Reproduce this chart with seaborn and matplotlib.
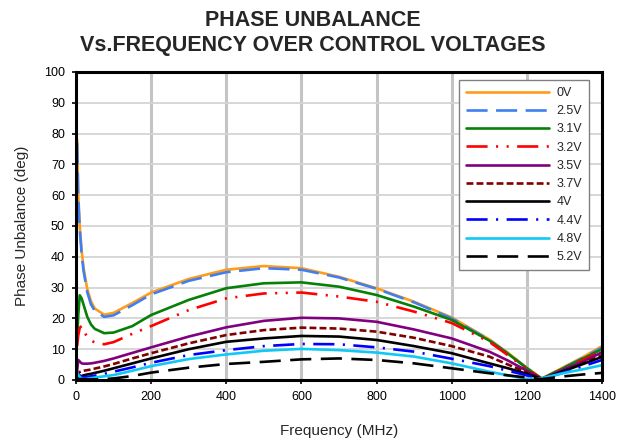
import matplotlib
matplotlib.use("Agg")
import matplotlib.pyplot as plt
import seaborn as sns
import pandas as pd

freq = [3, 6, 10, 15, 20, 30, 40, 50, 75, 100, 150, 200, 300, 400, 500, 600,
        700, 800, 900, 1000, 1100, 1150, 1200, 1240, 1300, 1350, 1400]

v_0 = [78, 60, 50, 42, 36.5, 29.5, 25.5, 23.2, 21.2, 21.8, 25, 28.4, 32.8, 35.8, 37.0, 36.3,
       33.5, 29.8, 25.4, 20.3, 13.2, 8.8, 4.0, 0.5, 4.3, 7.5, 11]
v_25 = [77, 59, 49, 41, 35.5, 28.5, 24.5, 22.5, 20.5, 21, 24.3, 27.8, 32.2, 35.0, 36.3, 35.8,
        33.3, 29.6, 25.2, 20.0, 13.0, 8.6, 3.8, 0.4, 4.1, 7.2, 10.5]
v_31 = [13, 21, 27.5, 26.5, 24.5, 20.5, 18, 16.6, 15.2, 15.4, 17.5, 21.1, 26.0, 29.8, 31.4, 31.7,
        30.3, 27.6, 23.8, 19.5, 12.8, 8.5, 3.8, 0.4, 4.0, 7.0, 10]
v_32 = [11, 14.5, 17, 17.5, 16, 14, 12.8, 12.2, 11.6, 12.3, 15, 17.5, 22.7, 26.5, 28.1, 28.4,
        27.1, 25.4, 22.2, 18.5, 12.4, 8.0, 3.6, 0.3, 3.8, 6.5, 9.5]
v_35 = [3, 6.5, 6, 5.4, 5.3, 5.3, 5.4, 5.6, 6.2, 7.0, 8.8, 10.6, 14.1, 17.1, 19.2, 20.2,
        20.0, 18.9, 16.4, 13.5, 9.2, 6.3, 3.0, 0.3, 3.5, 6.0, 9.0]
v_37 = [1.0, 2.2, 2.6, 2.9, 3.0, 3.2, 3.4, 3.7, 4.4, 5.2, 7.0, 8.7, 11.9, 14.6, 16.2, 17.0,
        16.7, 15.7, 13.7, 11.0, 7.6, 5.0, 2.5, 0.3, 3.0, 5.5, 8.0]
v_4 = [0.2, 0.6, 1.0, 1.3, 1.5, 1.8, 2.0, 2.3, 3.0, 3.8, 5.4, 7.0, 10.0, 12.4, 13.5, 14.3,
       14.1, 13.0, 11.0, 8.7, 5.4, 3.8, 2.0, 0.3, 3.0, 5.2, 7.5]
v_44 = [1.7, 2.0, 1.5, 1.0, 0.9, 1.0, 1.2, 1.4, 2.0, 2.7, 4.1, 5.6, 8.1, 9.7, 11.0, 11.7,
        11.6, 10.6, 9.2, 6.9, 4.5, 3.0, 1.5, 0.3, 2.5, 4.5, 6.5]
v_48 = [2.3, 1.7, 1.0, 0.5, 0.3, 0.4, 0.6, 0.8, 1.2, 1.6, 3.0, 4.5, 6.8, 8.3, 9.5, 10.1,
        9.7, 8.9, 7.6, 5.4, 2.7, 1.5, 0.3, 0.6, 2.3, 3.5, 4.8]
v_52 = [0.1, 0.2, 0.3, 0.3, 0.3, 0.2, 0.2, 0.2, 0.3, 0.5, 1.3, 2.4, 4.0, 5.2, 5.9, 6.7,
        7.0, 6.5, 5.4, 3.8, 2.2, 1.5, 0.8, 0.3, 1.2, 1.8, 2.3]

labels = ["0V", "2.5V", "3.1V", "3.2V", "3.5V", "3.7V", "4V", "4.4V", "4.8V", "5.2V"]
series = [v_0, v_25, v_31, v_32, v_35, v_37, v_4, v_44, v_48, v_52]

colors = ["#FF9C1A", "#3F7FEF", "#068006", "#FF0000", "#800080",
          "#800000", "#000000", "#0000FF", "#10C8F5", "#000000"]
styles = ["-", (0, (8, 3.2)), "-", (0, (8, 3.2, 0.8, 3.2, 0.8, 3.2)), "-",
          (0, (2.6, 1.2)), "-", (0, (8, 3.2, 0.8, 3.2)), "-", (0, (8, 3.6))]

sns.set_style("white")
plt.rcParams["font.family"] = ["Liberation Sans", "DejaVu Sans"]

fig = plt.figure(figsize=(6.25, 4.45), dpi=100)
ax = fig.add_axes([76 / 625, 1 - 380 / 445, 526 / 625, 308 / 445])

rows = []
for lab, vals in zip(labels, series):
    for f, v in zip(freq, vals):
        rows.append({"Frequency": f, "Value": v, "Voltage": lab})
df = pd.DataFrame(rows)

for lab, col, ls in zip(labels, colors, styles):
    sub = df[df["Voltage"] == lab]
    sns.lineplot(data=sub, x="Frequency", y="Value", color=col, linestyle=ls,
                 linewidth=1.9, label=lab, ax=ax, sort=False)

ax.set_xlim(0, 1400)
ax.set_ylim(0, 100)
ax.set_xticks(range(0, 1401, 200))
ax.set_yticks(range(0, 101, 10))
ax.tick_params(axis="both", labelsize=9, direction="out", length=3, width=1.2,
               colors="black", left=True, bottom=True, pad=5)
ax.xaxis.grid(True, color="#c4c4c4", linewidth=2.2)
ax.yaxis.grid(True, color="#d4d4d4", linewidth=1.3)
ax.set_axisbelow(True)
for sp in ax.spines.values():
    sp.set_color("black")
    sp.set_linewidth(2.2)

ax.set_xlabel("Frequency (MHz)", fontsize=11, labelpad=15)
ax.set_ylabel("Phase Unbalance (deg)", fontsize=11, labelpad=11)

leg = ax.legend(loc="upper right", bbox_to_anchor=(0.975, 0.974), borderaxespad=0,
                fontsize=9, frameon=True, fancybox=False, framealpha=1,
                edgecolor="#808080", handlelength=6.6, labelspacing=0.5,
                borderpad=0.55, handletextpad=0.6)
leg.get_frame().set_linewidth(1.0)

fig.text(0.5, 1 - 26.5 / 445, "PHASE UNBALANCE", ha="center", va="baseline",
         fontsize=15.5, fontweight="bold")
fig.text(0.5, 1 - 51.5 / 445, "Vs.FREQUENCY OVER CONTROL VOLTAGES", ha="center",
         va="baseline", fontsize=15.5, fontweight="bold")

fig.savefig("out.png", dpi=100)
